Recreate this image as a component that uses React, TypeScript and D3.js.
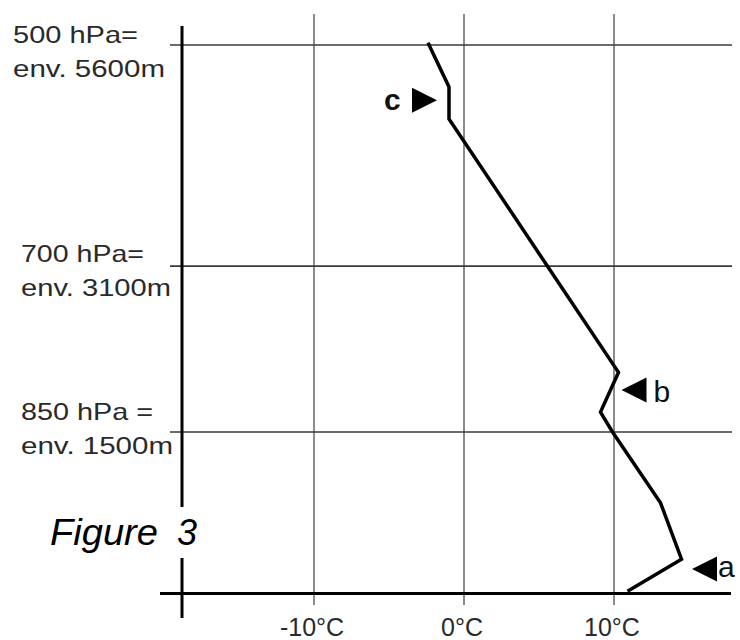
import React from "react";
import * as d3 from "d3";

// Temperature profile (°C) against pressure (hPa), from the surface upward
const profileTemps = [10.9, 14.5, 13.1, 9.9, 9.1, 10.3, -1.0, -1.0, -2.4];
const profilePressures = [994, 965, 914, 850, 832, 796, 567, 538, 498];

// Reference pressure levels and their labels
const levelPressures = [500, 700, 850];
const levelLine1 = ["500 hPa=", "700 hPa=", "850 hPa ="];
const levelLine2 = ["env. 5600m", "env. 3100m", "env. 1500m"];

// Temperature tick values and labels
const tempTicks = [-10, 0, 10];
const tempTickLabels = ["-10°C", "0°C", "10°C"];

// Annotated layers: tip of each arrow marker
const markerLabels = ["a", "b", "c"];
const markerTemps = [15.2, 10.5, -1.8];
const markerPressures = [974, 812, 550];
const markerPointsLeft = [true, true, false];

const surfacePressure = 996;
const axisTemp = -18.8;

const W = 740;
const H = 640;
const FONT = "'Liberation Sans', Arial, sans-serif";

// Layout details for the level labels (x, baseline offsets, fitted widths)
const levelLabelX = [13, 21, 21];
const levelLabelDy = [-2, -4, -12];
const levelLine1Width = [125, 123, 132];
const levelLine2Width = [152, 150, 152];

export default function App() {
  const x = d3.scaleLinear().domain([-10, 10]).range([314, 614]);
  const y = d3.scaleLinear().domain([500, 850]).range([45, 432]);

  const axisX = x(axisTemp);
  const axisY = y(surfacePressure);

  const profile = profileTemps.map((t, i) => [t, profilePressures[i]] as [number, number]);
  const line = d3
    .line<[number, number]>()
    .x((d) => x(d[0]))
    .y((d) => y(d[1]));

  const tri = 25;
  const half = 12.5;

  return (
    <svg
      width={W}
      height={H}
      style={{ position: "absolute", left: 0, top: 0, background: "#fff" }}
    >
      <rect x={0} y={0} width={W} height={H} fill="#fff" />

      {/* vertical temperature gridlines */}
      {tempTicks.map((t) => (
        <line
          key={"vg" + t}
          x1={x(t)}
          x2={x(t)}
          y1={14}
          y2={605}
          stroke="#8c8c8c"
          strokeWidth={2}
        />
      ))}

      {/* horizontal pressure-level lines */}
      {levelPressures.map((p) => (
        <line
          key={"hg" + p}
          x1={170}
          x2={732}
          y1={y(p)}
          y2={y(p)}
          stroke="#3a3a3a"
          strokeWidth={1.6}
        />
      ))}

      {/* left axis, interrupted behind the figure caption */}
      <line x1={axisX} x2={axisX} y1={26} y2={507} stroke="#000" strokeWidth={3} />
      <line x1={axisX} x2={axisX} y1={558} y2={618} stroke="#000" strokeWidth={3} />

      {/* bottom axis */}
      <line x1={160} x2={731} y1={axisY} y2={axisY} stroke="#000" strokeWidth={3} />

      {/* temperature profile */}
      <path
        d={line(profile) ?? ""}
        fill="none"
        stroke="#000"
        strokeWidth={3.5}
        strokeLinejoin="miter"
      />

      {/* markers */}
      {markerLabels.map((lab, i) => {
        const tx = x(markerTemps[i]);
        const ty = y(markerPressures[i]);
        const left = markerPointsLeft[i];
        const bx = left ? tx + tri : tx - tri;
        const pts = `${tx},${ty} ${bx},${ty - half} ${bx},${ty + half}`;
        const labelX = left ? bx + (lab === "a" ? 1 : 7) : bx - 28;
        const labelY = ty + (lab === "a" ? 8 : lab === "b" ? 12 : 10);
        return (
          <g key={lab}>
            <polygon points={pts} fill="#000" />
            <text
              x={labelX}
              y={labelY}
              fontFamily={FONT}
              fontSize={30}
              fontWeight={lab === "c" ? 700 : 400}
              fill="#111"
            >
              {lab}
            </text>
          </g>
        );
      })}

      {/* level labels */}
      {levelPressures.map((p, i) => (
        <g key={"lab" + p} fontFamily={FONT} fontSize={24} fill="#2a2a2a">
          <text
            x={levelLabelX[i]}
            y={y(p) + levelLabelDy[i]}
            textLength={levelLine1Width[i]}
            lengthAdjust="spacingAndGlyphs"
          >
            {levelLine1[i]}
          </text>
          <text
            x={levelLabelX[i]}
            y={y(p) + levelLabelDy[i] + 34}
            textLength={levelLine2Width[i]}
            lengthAdjust="spacingAndGlyphs"
          >
            {levelLine2[i]}
          </text>
        </g>
      ))}

      {/* temperature tick labels */}
      {tempTicks.map((t, i) => (
        <text
          key={"tl" + t}
          x={x(t) - 2}
          y={636}
          textAnchor="middle"
          fontFamily={FONT}
          fontSize={25}
          fill="#2a2a2a"
        >
          {tempTickLabels[i]}
        </text>
      ))}

      {/* caption */}
      <g fontFamily={FONT} fontStyle="italic" fontSize={36} fill="#000">
        <text x={50} y={545} textLength={108} lengthAdjust="spacingAndGlyphs">
          Figure
        </text>
        <text x={177} y={545}>
          3
        </text>
      </g>
    </svg>
  );
}
